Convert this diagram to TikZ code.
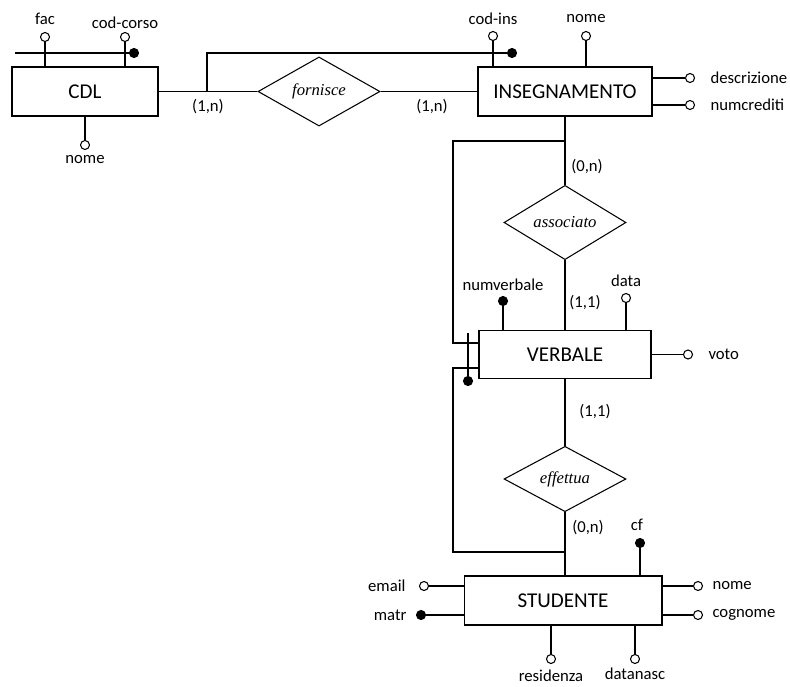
\documentclass[tikz,border=0pt]{standalone}
\usepackage{fontspec}
\setmainfont{Carlito}
\newfontfamily\relfont{Liberation Serif}
\usetikzlibrary{shapes.geometric,positioning}

\begin{document}
\begin{tikzpicture}[
  x=0.02cm, y=-0.02cm, line width=0.6pt,
  entity/.style={draw, rectangle, minimum height=0.98cm, font=\fontsize{12}{14}\selectfont},
  relation/.style={draw, diamond, minimum width=2.44cm, minimum height=0.96cm, inner sep=0pt, font=\relfont\itshape\fontsize{9.5}{11}\selectfont},
  attr/.style={draw, circle, fill=white, inner sep=0pt, minimum size=0.18cm},
  keyattr/.style={attr, fill=black},
  lbl/.style={inner sep=0pt, font=\fontsize{9.5}{11}\selectfont}
]
\useasboundingbox (0,0) rectangle (790,686);

\node[entity, minimum width=2.92cm] (cdl) at (85,91.5) {CDL};
\node[relation] (forn) at (319,91.5) {fornisce};
\node[entity, minimum width=3.48cm] (ins) at (565,91.5) {INSEGNAMENTO};
\node[relation] (asso) at (565,222.5) {associato};
\node[entity, minimum width=3.44cm, minimum height=0.96cm] (verb) at (565,354.5) {VERBALE};
\node[relation] (effe) at (565,479) {effettua};
\node[entity, minimum width=3.96cm] (stud) at (563,600.5) {STUDENTE};

\draw (cdl) -- (forn) -- (ins);
\draw (ins) -- (asso) -- (verb) -- (effe);
\draw (effe) -- (effe |- stud.north);

\node[lbl] (c1) at (208,107) {(1,n)};
\node[lbl] (c2) at (432,107) {(1,n)};
\node[lbl] (c3) at (587,167) {(0,n)};
\node[lbl] (c4) at (585,303) {(1,1)};
\node[lbl] (c5) at (595,412) {(1,1)};
\node[lbl] (c6) at (588,528) {(0,n)};

\node[attr] (fac) at (45,37) {};
\node[lbl] (facT) at (45,19) {fac};
\node[attr] (codc) at (125,37) {};
\node[lbl] (codcT) at (125,23) {cod-corso};
\node[attr] (cnome) at (85,145) {};
\node[lbl] (cnomeT) at (85,160) {nome};
\coordinate (cdlid) at (15,53);
\node[keyattr] (cdlkey) at (134,53) {};
\draw (fac) -- (fac |- cdl.north);
\draw (codc) -- (codc |- cdl.north);
\draw (cnome) -- (cnome |- cdl.south);
\draw (cdlid) -- (cdlkey);

\node[attr] (codi) at (493,36) {};
\node[lbl] (codiT) at (493,19) {cod-ins};
\node[attr] (inome) at (586,36) {};
\node[lbl] (inomeT) at (586,19) {nome};
\node[attr] (descr) at (690,78) {};
\node[lbl, anchor=west] (descrT) at (710,78) {descrizione};
\node[attr] (ncred) at (690,105) {};
\node[lbl, anchor=west] (ncredT) at (710,105) {numcrediti};
\coordinate (insid) at (207,91.5);
\node[keyattr] (inskey) at (512,53) {};
\draw (codi) -- (codi |- ins.north);
\draw (inome) -- (inome |- ins.north);
\draw (descr) -- (descr -| ins.east);
\draw (ncred) -- (ncred -| ins.east);
\draw (insid) |- (inskey);

\node[keyattr] (numv) at (503,301) {};
\node[lbl] (numvT) at (503,285) {numverbale};
\node[attr] (data) at (626,298) {};
\node[lbl] (dataT) at (626,281) {data};
\node[attr] (voto) at (688,354.5) {};
\node[lbl, anchor=west] (votoT) at (708,354.5) {voto};
\draw (numv) -- (numv |- verb.north);
\draw (data) -- (data |- verb.north);
\draw (voto) -- (voto -| verb.east);
\coordinate (up) at (565,141);
\coordinate (upleft) at (453,343);
\coordinate (down) at (565,552);
\coordinate (downleft) at (453,368);
\coordinate (verbid) at (468,333);
\node[keyattr] (verbkey) at (468,381) {};
\draw (up) -| (upleft) -- (upleft -| verb.west);
\draw (down) -| (downleft) -- (downleft -| verb.west);
\draw (verbid) -- (verbkey);

\node[keyattr] (cf) at (640,543) {};
\node[lbl] (cfT) at (637,525) {cf};
\node[attr] (email) at (424,586) {};
\node[lbl, anchor=east] (emailT) at (406,586) {email};
\node[keyattr] (matr) at (421,615) {};
\node[lbl, anchor=east] (matrT) at (407,615) {matr};
\node[attr] (snome) at (698,586) {};
\node[lbl, anchor=west] (snomeT) at (712,586) {nome};
\node[attr] (cogn) at (698,615) {};
\node[lbl, anchor=west] (cognT) at (712,615) {cognome};
\node[attr] (resid) at (551,659) {};
\node[lbl] (residT) at (551,676) {residenza};
\node[attr] (datan) at (635,659) {};
\node[lbl] (datanT) at (635,674) {datanasc};
\draw (cf) -- (cf |- stud.north);
\draw (email) -- (email -| stud.west);
\draw (matr) -- (matr -| stud.west);
\draw (snome) -- (snome -| stud.east);
\draw (cogn) -- (cogn -| stud.east);
\draw (resid) -- (resid |- stud.south);
\draw (datan) -- (datan |- stud.south);
\end{tikzpicture}
\end{document}
